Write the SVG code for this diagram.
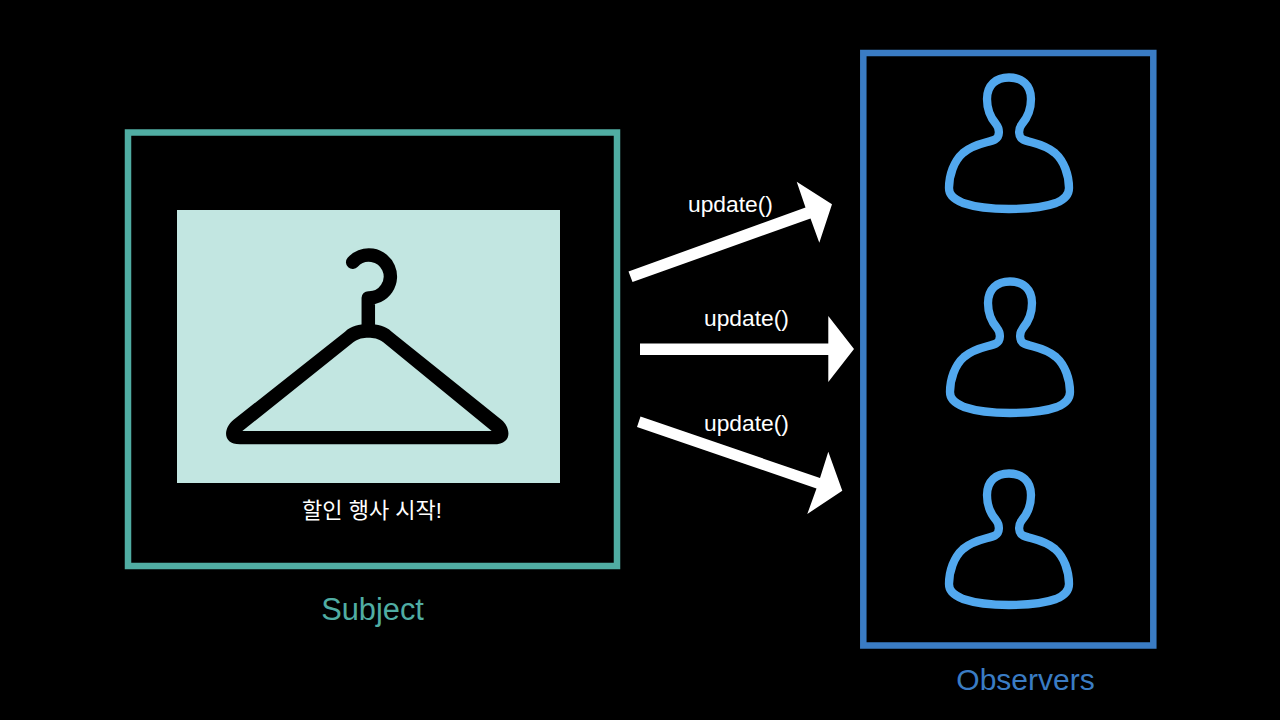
<svg xmlns="http://www.w3.org/2000/svg" width="1280" height="720" viewBox="0 0 1280 720">
<style>
.lbl{font-family:"Liberation Sans","Noto Sans CJK KR",sans-serif;fill:#fff;font-size:22.8px}
.ko{font-family:"Liberation Sans","Noto Sans CJK KR",sans-serif;fill:#fff;font-size:22px}
.cap{font-family:"Liberation Sans",sans-serif;font-size:30px}
.person{fill:none;stroke:#52a8ee;stroke-width:8.300;stroke-linejoin:round}
</style>
<defs>
<path id="person" class="person" d="M79 17.500C66 17.500 57 25 57 39C57 50 60 57 66 64C70 69 70 77 65 79.500C58 83 45 83 33 93C24 101 19 115 19 128C19 134 22 138 33 143C45 147 60 149 79 149C98 149 115 147 126 143C136 139 139 134 139 128C139 115 134 101 125 93C113 83 100 83 93 79.500C88 77 88 69 92 64C98 57 101 50 101 39C101 25 92 17.500 79 17.500Z"/>
</defs>
<rect width="1280" height="720" fill="#000"/>
<g id="subject">
<rect x="128" y="132.500" width="489" height="433.500" fill="none" stroke="#50ada3" stroke-width="6.500"/>
<rect x="177" y="210" width="383" height="273" fill="#c2e6e1"/>
<path d="M352.700 262.300A21.500 21.500 0 1 1 368.300 298V330" fill="none" stroke="#000" stroke-width="13.500" stroke-linecap="round" stroke-linejoin="round"/>
<path fill-rule="evenodd" fill="#000" d="M233.300 420L345 331.700C351.700 325.700 358.300 324.300 368.300 324.300C378.300 324.300 385 325.700 391.700 331.700L501.700 420C510 426.700 514 444.300 493.300 444.300H240C222 444.300 223.300 428.300 233.300 420ZM242.300 431L353.300 342.300C358.300 338.300 363.300 337.700 368.300 337.700C373.300 337.700 378.300 338.300 383.300 342.300L491.700 431Z"/>
<text class="ko" x="372" y="518" text-anchor="middle">할인 행사 시작!</text>
<text class="cap" x="372.500" y="620" text-anchor="middle" fill="#50ada3" style="font-size:30.800px">Subject</text>
</g>
<g id="observers">
<rect x="863.300" y="53" width="290" height="592.500" fill="none" stroke="#3a7cc4" stroke-width="6.500"/>
<text class="cap" x="1025.500" y="689.500" text-anchor="middle" fill="#3a7cc4">Observers</text>
</g>
<g id="observer-1"><use href="#person" x="930" y="60"/></g>
<g id="observer-2"><use href="#person" x="931" y="264"/></g>
<g id="observer-3"><use href="#person" x="930" y="456"/></g>
<g id="connectors" fill="#fff">
<polygon points="628.500,271.500 632.500,282 810.500,218.500 819.300,242.700 832,204.300 796.700,181.700 805.500,207.500"/>
<polygon points="640,343.500 640,355 828.300,355 828.300,382 854,349 828.300,316 828.300,343.500"/>
<polygon points="640.500,416.500 637,427 816.500,488.500 807.300,514 842.300,490.700 828.300,451.700 820,478"/>
<text class="lbl" x="688" y="211.500">update()</text>
<text class="lbl" x="704" y="326">update()</text>
<text class="lbl" x="704" y="430.500">update()</text>
</g>
</svg>
